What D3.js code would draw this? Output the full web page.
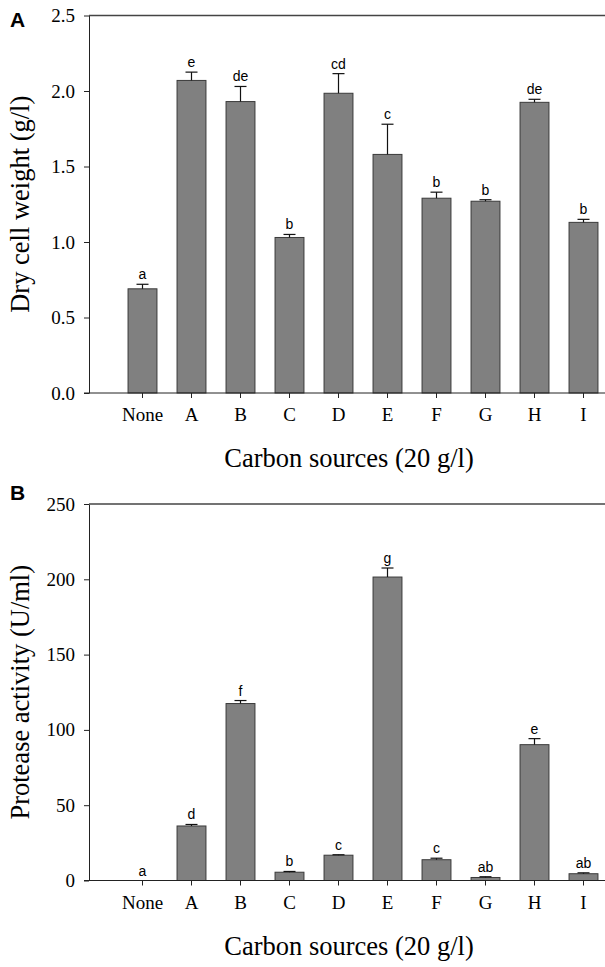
<!DOCTYPE html>
<html>
<head>
<meta charset="utf-8">
<script src="https://cdn.jsdelivr.net/npm/d3@7"></script>
<style>
  body { margin: 0; background: #fff; }
  svg { display: block; }
  .tick text { font-family: "Liberation Serif", "Times New Roman", serif; font-size: 19px; fill: #000; }
  .tick line, .domain { stroke: #222; }
</style>
</head>
<body>
<svg id="chart" width="605" height="967"></svg>
<script>
// Carbon source screening: dry cell weight (A) and protease activity (B)
const categories = ['None', 'A', 'B', 'C', 'D', 'E', 'F', 'G', 'H', 'I'];

const dcwValues  = [0.69, 2.07, 1.93, 1.03, 1.985, 1.58, 1.29, 1.27, 1.925, 1.13];
const dcwErrors  = [0.03, 0.055, 0.10, 0.02, 0.13, 0.20, 0.04, 0.01, 0.02, 0.02];
const dcwLetters = ['a', 'e', 'de', 'b', 'cd', 'c', 'b', 'b', 'de', 'b'];
const dcwTicks   = [0, 0.5, 1.0, 1.5, 2.0, 2.5];

const protValues  = [0, 36.2, 117.5, 5.5, 16.8, 201.5, 13.8, 2.0, 90.2, 4.5];
const protErrors  = [0, 1.0, 2.0, 0.5, 0.3, 6.0, 1.0, 0.5, 4.0, 0.6];
const protLetters = ['a', 'd', 'f', 'b', 'c', 'g', 'c', 'ab', 'e', 'ab'];
const protTicks   = [0, 50, 100, 150, 200, 250];

const svg = d3.select('#chart');

const x = d3.scaleBand()
  .domain(categories)
  .range([118, 608])
  .paddingInner(0.41)
  .paddingOuter(0.205);

function drawPanel({ top, bottom, max, ticks, fmt, values, errors, letters, yTitle, tag, tagY }) {
  const y = d3.scaleLinear().domain([0, max]).range([bottom, top]);
  const g = svg.append('g');
  const rows = categories.map((c, i) => ({ c, v: values[i], e: errors[i], l: letters[i] }));

  // bars
  g.selectAll('rect.bar')
    .data(rows)
    .join('rect')
    .attr('class', 'bar')
    .attr('x', d => x(d.c))
    .attr('width', x.bandwidth())
    .attr('y', d => y(d.v))
    .attr('height', d => y(0) - y(d.v))
    .attr('fill', '#808080')
    .attr('stroke', '#3a3a3a')
    .attr('stroke-width', 1);

  // error bars (upper only)
  const eb = g.selectAll('g.err').data(rows.filter(d => d.e > 0)).join('g').attr('class', 'err');
  eb.append('line')
    .attr('x1', d => x(d.c) + x.bandwidth() / 2).attr('x2', d => x(d.c) + x.bandwidth() / 2)
    .attr('y1', d => y(d.v)).attr('y2', d => y(d.v + d.e))
    .attr('stroke', '#111').attr('stroke-width', 1.2);
  eb.append('line')
    .attr('x1', d => x(d.c) + x.bandwidth() / 2 - 6).attr('x2', d => x(d.c) + x.bandwidth() / 2 + 6)
    .attr('y1', d => y(d.v + d.e)).attr('y2', d => y(d.v + d.e))
    .attr('stroke', '#111').attr('stroke-width', 1.2);

  // significance letters
  g.selectAll('text.sig')
    .data(rows)
    .join('text')
    .attr('class', 'sig')
    .attr('x', d => x(d.c) + x.bandwidth() / 2)
    .attr('y', d => y(d.v + d.e) - 5)
    .attr('text-anchor', 'middle')
    .attr('font-family', 'Liberation Sans, Arial, sans-serif')
    .attr('font-size', 14)
    .text(d => d.l);

  // axes
  g.append('g')
    .attr('transform', `translate(89,0)`)
    .call(d3.axisLeft(y).tickValues(ticks).tickFormat(fmt).tickSize(5).tickSizeOuter(0).tickPadding(9));

  const xa = g.append('g')
    .attr('transform', `translate(0,${bottom})`)
    .call(d3.axisBottom(x).tickSize(5).tickPadding(10));
  xa.select('.domain').remove();

  g.append('line').attr('x1', 84).attr('x2', 605).attr('y1', bottom).attr('y2', bottom).attr('stroke', '#222');
  g.append('line').attr('x1', 89).attr('x2', 605).attr('y1', top).attr('y2', top).attr('stroke', '#444').attr('stroke-width', 1.5);

  // titles
  g.append('text')
    .attr('x', 349).attr('y', bottom + 74)
    .attr('text-anchor', 'middle')
    .attr('font-family', 'Liberation Serif, Times New Roman, serif')
    .attr('font-size', 26.5)
    .text('Carbon sources (20 g/l)');

  g.append('text')
    .attr('transform', `translate(29,${(top + bottom) / 2}) rotate(-90)`)
    .attr('text-anchor', 'middle')
    .attr('font-family', 'Liberation Serif, Times New Roman, serif')
    .attr('font-size', 26.5)
    .text(yTitle);

  g.append('text')
    .attr('x', 10).attr('y', tagY)
    .attr('font-family', 'Liberation Sans, Arial, sans-serif')
    .attr('font-weight', 'bold')
    .attr('font-size', 21)
    .text(tag);
}

drawPanel({
  top: 15.5, bottom: 393, max: 2.5, ticks: dcwTicks, fmt: d3.format('.1f'),
  values: dcwValues, errors: dcwErrors, letters: dcwLetters,
  yTitle: 'Dry cell weight (g/l)', tag: 'A', tagY: 27
});

drawPanel({
  top: 504, bottom: 880.5, max: 250, ticks: protTicks, fmt: d3.format('d'),
  values: protValues, errors: protErrors, letters: protLetters,
  yTitle: 'Protease activity (U/ml)', tag: 'B', tagY: 500
});
</script>
</body>
</html>
